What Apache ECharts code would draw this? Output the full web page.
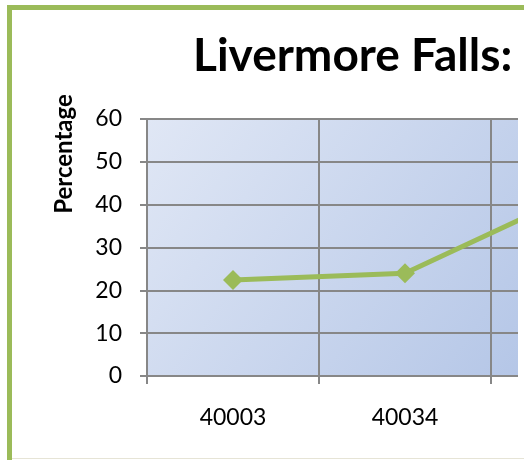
<!DOCTYPE html>
<html>
<head>
<meta charset="utf-8">
<script src="https://cdn.jsdelivr.net/npm/echarts@6/dist/echarts.min.js"></script>
<style>
  body { margin: 0; background: #fff; }
  #wrap { position: absolute; left: 0; top: 0; width: 518px; height: 460px; overflow: hidden; }
  #main { width: 700px; height: 460px; }
  .frame { position: absolute; background: #9bbb59; }
</style>
</head>
<body>
<div id="wrap"><div id="main"></div></div>
<div class="frame" style="left:7px;top:5px;width:517px;height:5px"></div>
<div class="frame" style="left:7px;top:5px;width:5px;height:455px"></div>
<div style="position:absolute;left:12px;top:458px;width:512px;height:1px;background:#e6e4d6"></div>
<script>
// chart values
const categories = ['40003', '40034', '40065']
const percentage = [22.4, 24, 42.7]
const yTicks = { min: 0, max: 60, step: 10 }

const gridGray = '#878787'
const myChart = echarts.init(document.getElementById('main'))
myChart.setOption({
  animation: false,
  textStyle: { fontFamily: 'Lato' },
  grid: {
    left: 147, top: 119, width: 516, height: 257,
    show: true,
    borderWidth: 0,
    backgroundColor: new echarts.graphic.LinearGradient(147, 119, 560, 420, [
      { offset: 0, color: '#e0e7f5' },
      { offset: 1, color: '#afc2e5' }
    ], true)
  },
  graphic: [
    {
      type: 'text', left: 193, top: 33,
      style: { text: 'Livermore Falls:', fontFamily: 'Lato', fontWeight: 'bold', fontSize: 46, fill: '#000' }
    },
    {
      type: 'text', x: 64, y: 154, rotation: Math.PI / 2,
      style: { text: 'Percentage', fontFamily: 'Lato', fontWeight: 'bold', fontSize: 24, fill: '#000', align: 'center', verticalAlign: 'middle' }
    }
  ],
  xAxis: {
    type: 'category',
    data: categories,
    boundaryGap: true,
    axisLine: { lineStyle: { color: gridGray, width: 2 } },
    axisTick: { show: true, length: 8, lineStyle: { color: gridGray, width: 2 } },
    splitLine: { show: true, lineStyle: { color: gridGray, width: 2 } },
    axisLabel: { color: '#000', fontSize: 23, margin: 30, fontFamily: 'Lato' }
  },
  yAxis: {
    type: 'value',
    min: yTicks.min, max: yTicks.max, interval: yTicks.step,
    axisLine: { show: true, lineStyle: { color: gridGray, width: 2 } },
    axisTick: { show: true, length: 7, lineStyle: { color: gridGray, width: 2 } },
    splitLine: { show: true, lineStyle: { color: gridGray, width: 2 } },
    axisLabel: { color: '#000', fontSize: 23, margin: 25, fontFamily: 'Lato' }
  },
  series: [
    {
      type: 'line',
      data: percentage,
      symbol: 'diamond',
      symbolSize: 20,
      lineStyle: { color: '#9bbb59', width: 5 },
      itemStyle: { color: '#9bbb59' }
    }
  ]
})
</script>
</body>
</html>
